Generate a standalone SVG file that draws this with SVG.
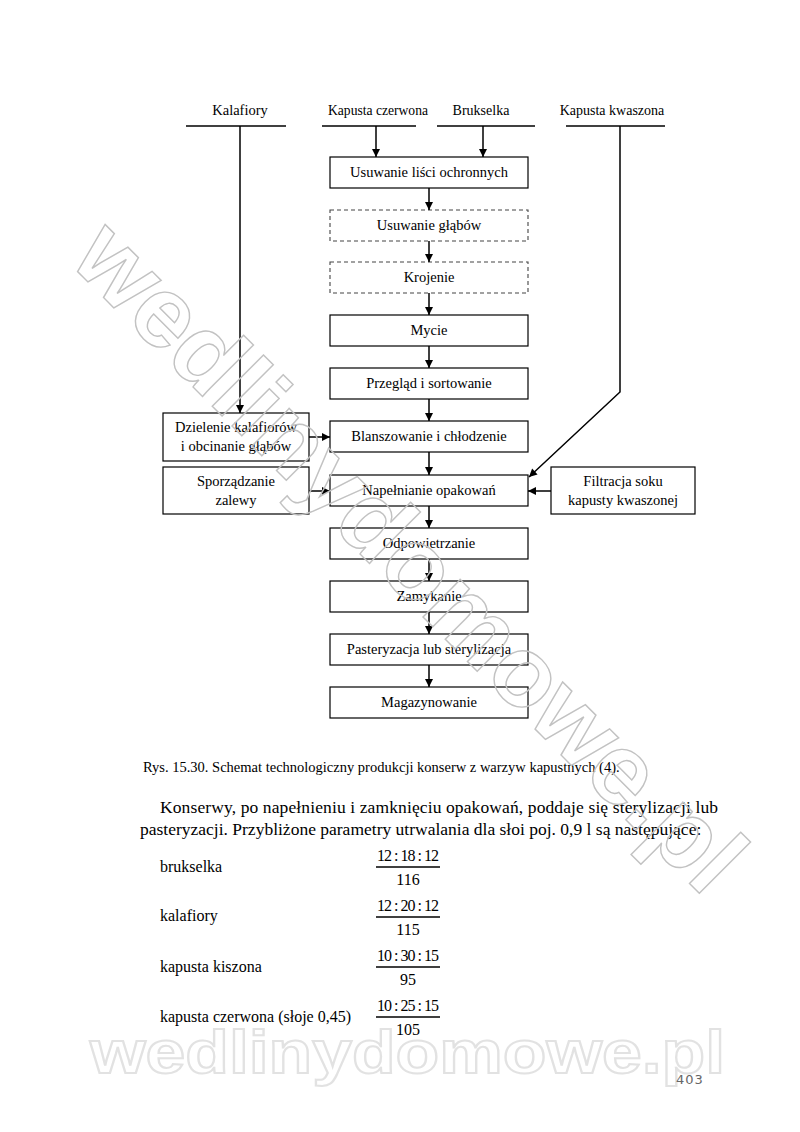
<svg xmlns="http://www.w3.org/2000/svg" width="800" height="1132" viewBox="0 0 800 1132">
<defs>
<marker id="ah" viewBox="0 0 10 10" refX="10" refY="5" markerWidth="9" markerHeight="8" markerUnits="userSpaceOnUse" orient="auto">
<path d="M0,0 L10,5 L0,10 z" fill="#000"/>
</marker>
<style>
.t{font-size:14.5px;fill:#000;text-anchor:middle}
.b{font-size:16px;fill:#000}
.p{font-size:17.5px;fill:#000}
.bx{fill:#fff;stroke:#000;stroke-width:1.2}
.dx{fill:#fff;stroke:#444;stroke-width:1.1;stroke-dasharray:4 3}
.ln{fill:none;stroke:#000;stroke-width:1.3}
.ar{fill:none;stroke:#000;stroke-width:1.5;marker-end:url(#ah)}
.wm{font-weight:bold;fill:none;stroke:#c2c2c2;stroke-width:1.4}
</style>
</defs>
<rect width="800" height="1132" fill="#fff"/>

<g id="watermark-bottom">
<text x="90" y="1073" textLength="635" lengthAdjust="spacingAndGlyphs" font-family="Liberation Sans, Arial, sans-serif" font-weight="bold" font-size="62" fill="#fff" stroke="#e2e2e2" stroke-width="2">wedlinydomowe.pl</text>
</g>

<g font-family="Liberation Serif, Times New Roman, DejaVu Serif, serif">
<g id="sources">
<text class="t" x="240" y="115" font-size="14">Kalafiory</text>
<text class="t" x="378" y="115" style="font-size:13.6px">Kapusta czerwona</text>
<text class="t" x="481" y="115" style="font-size:14px">Brukselka</text>
<text class="t" x="612" y="115" style="font-size:14px">Kapusta kwaszona</text>
<line class="ln" x1="186" y1="126" x2="286" y2="126"/>
<line class="ln" x1="322" y1="126" x2="416" y2="126"/>
<line class="ln" x1="437" y1="126" x2="535" y2="126"/>
<line class="ln" x1="566" y1="126" x2="665" y2="126"/>
</g>

<g id="n1"><rect class="bx" x="330" y="157" width="198" height="31"/><text class="t" x="429" y="177">Usuwanie liści ochronnych</text></g>
<g id="n2"><rect class="dx" x="330" y="210" width="198" height="31"/><text class="t" x="429" y="230">Usuwanie głąbów</text></g>
<g id="n3"><rect class="dx" x="330" y="262" width="198" height="31"/><text class="t" x="429" y="282">Krojenie</text></g>
<g id="n4"><rect class="bx" x="330" y="315" width="198" height="31"/><text class="t" x="429" y="335">Mycie</text></g>
<g id="n5"><rect class="bx" x="330" y="368" width="198" height="31"/><text class="t" x="429" y="388">Przegląd i sortowanie</text></g>
<g id="n6"><rect class="bx" x="330" y="421" width="198" height="31"/><text class="t" x="429" y="441">Blanszowanie i chłodzenie</text></g>
<g id="n7"><rect class="bx" x="330" y="475" width="198" height="31"/><text class="t" x="429" y="495">Napełnianie opakowań</text></g>
<g id="n8"><rect class="bx" x="330" y="528" width="198" height="31"/><text class="t" x="429" y="548">Odpowietrzanie</text></g>
<g id="n9"><rect class="bx" x="330" y="581" width="198" height="31"/><text class="t" x="429" y="601">Zamykanie</text></g>
<g id="n10"><rect class="bx" x="330" y="634" width="198" height="31"/><text class="t" x="429" y="654">Pasteryzacja lub sterylizacja</text></g>
<g id="n11"><rect class="bx" x="330" y="687" width="198" height="31"/><text class="t" x="429" y="707">Magazynowanie</text></g>

<g id="dzielenie"><rect class="bx" x="163" y="413" width="146" height="48"/><text class="t" x="236" y="432">Dzielenie kalafiorów</text><text class="t" x="236" y="451">i obcinanie głąbów</text></g>
<g id="zalewa"><rect class="bx" x="163" y="467" width="146" height="47"/><text class="t" x="236" y="486">Sporządzanie</text><text class="t" x="236" y="505">zalewy</text></g>
<g id="filtracja"><rect class="bx" x="551" y="467" width="144" height="47"/><text class="t" x="623" y="486">Filtracja soku</text><text class="t" x="623" y="505">kapusty kwaszonej</text></g>

<g id="connectors">
<line class="ar" x1="376" y1="126" x2="376" y2="157"/>
<line class="ar" x1="483" y1="126" x2="483" y2="157"/>
<line class="ar" x1="240" y1="126" x2="240" y2="413"/>
<polyline class="ar" points="620,126 620,392 529,477"/>
<line class="ar" x1="429" y1="188" x2="429" y2="210"/>
<line class="ar" x1="429" y1="241" x2="429" y2="262"/>
<line class="ar" x1="429" y1="293" x2="429" y2="315"/>
<line class="ar" x1="429" y1="346" x2="429" y2="368"/>
<line class="ar" x1="429" y1="399" x2="429" y2="421"/>
<line class="ar" x1="429" y1="452" x2="429" y2="475"/>
<line class="ar" x1="429" y1="506" x2="429" y2="528"/>
<line class="ar" x1="429" y1="559" x2="429" y2="581"/>
<line class="ar" x1="429" y1="612" x2="429" y2="634"/>
<line class="ar" x1="429" y1="665" x2="429" y2="687"/>
<line class="ar" x1="309" y1="437" x2="330" y2="437"/>
<line class="ar" x1="309" y1="491" x2="330" y2="491"/>
<line class="ar" x1="551" y1="491" x2="528" y2="491"/>
</g>

<g id="caption">
<text class="t" x="143" y="772" style="text-anchor:start">Rys. 15.30. Schemat technologiczny produkcji konserw z warzyw kapustnych (4).</text>
</g>

<g id="body">
<text class="p" x="160" y="813" textLength="558" lengthAdjust="spacing">Konserwy, po napełnieniu i zamknięciu opakowań, poddaje się sterylizacji lub</text>
<text class="p" x="140" y="835">pasteryzacji. Przybliżone parametry utrwalania dla słoi poj. 0,9 l są następujące:</text>
<text class="b" x="160" y="872">brukselka</text>
<text class="b" x="160" y="921">kalafiory</text>
<text class="b" x="160" y="972">kapusta kiszona</text>
<text class="b" x="160" y="1022">kapusta czerwona (słoje 0,45)</text>
<g text-anchor="middle">
<text class="b" x="408" y="861" textLength="62" lengthAdjust="spacing">12 : 18 : 12</text>
<line class="ln" x1="376" y1="867" x2="440" y2="867"/>
<text class="b" x="408" y="885">116</text>
<text class="b" x="408" y="911" textLength="62" lengthAdjust="spacing">12 : 20 : 12</text>
<line class="ln" x1="376" y1="917" x2="440" y2="917"/>
<text class="b" x="408" y="935">115</text>
<text class="b" x="408" y="961" textLength="62" lengthAdjust="spacing">10 : 30 : 15</text>
<line class="ln" x1="376" y1="967" x2="440" y2="967"/>
<text class="b" x="408" y="985">95</text>
<text class="b" x="408" y="1011" textLength="62" lengthAdjust="spacing">10 : 25 : 15</text>
<line class="ln" x1="376" y1="1017" x2="440" y2="1017"/>
<text class="b" x="408" y="1035">105</text>
</g>
</g>
</g>

<g id="page">
<text x="690" y="1084" font-family="DejaVu Sans, sans-serif" font-size="13" fill="#666" text-anchor="middle" letter-spacing="1">403</text>
</g>

<g id="watermark">
<text class="wm" x="0" y="0" font-family="Liberation Sans, Arial, sans-serif" font-size="100" textLength="900" lengthAdjust="spacingAndGlyphs" transform="translate(68,262) rotate(45)">wedlinydomowe.pl</text>
</g>
</svg>
